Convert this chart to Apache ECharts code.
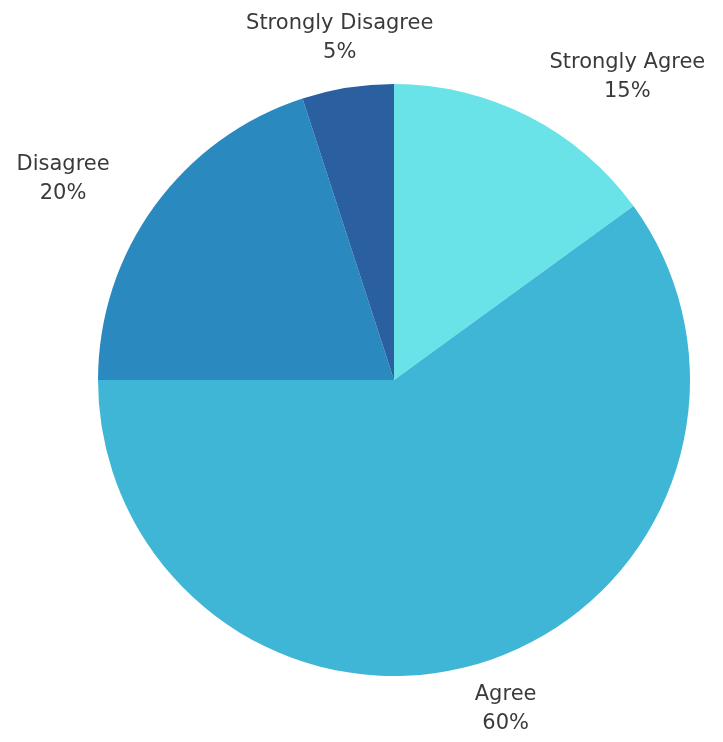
<!DOCTYPE html>
<html>
<head>
<meta charset="utf-8">
<script src="https://cdn.jsdelivr.net/npm/echarts@6/dist/echarts.min.js"></script>
<style>html,body{margin:0;padding:0;background:#fff;}#c{width:723px;height:742px;}</style>
</head>
<body>
<div id="c"></div>
<script>
const categories = ['Strongly Agree', 'Agree', 'Disagree', 'Strongly Disagree'];
const values = [15, 60, 20, 5];
const colors = ['#6ae3e8', '#3fb6d6', '#2a8ac0', '#2a60a0'];

// label placement styling (not data)
const labelGaps = [88, 49, 92, 51];
const labelShiftX = [59, 5, -17, 0];
const labelShiftY = [39, 1, 27, 1];

const chart = echarts.init(document.getElementById('c'));
chart.setOption({
  animation: false,
  series: [{
    type: 'pie',
    center: [394, 380],
    radius: [0, 296],
    startAngle: 90,
    clockwise: true,
    avoidLabelOverlap: false,
    data: categories.map((n, i) => ({
      name: n, value: values[i],
      itemStyle: { color: colors[i] },
      labelLine: { length: labelGaps[i] }
    })),
    label: {
      show: true,
      position: 'outside',
      formatter: p => p.name + '\n' + p.value + '%',
      fontFamily: 'DejaVu Sans',
      fontSize: 21,
      lineHeight: 29,
      color: '#3a3a3a',
      distanceToLabelLine: 0
    },
    labelLine: { show: true, length2: 0, lineStyle: { opacity: 0 } },
    emphasis: { disabled: true },
    labelLayout: function (params) {
      const pts = params.labelLinePoints;
      if (!pts) return {};
      const i = params.dataIndex;
      return { x: pts[1][0] + labelShiftX[i], y: pts[1][1] + labelShiftY[i], align: 'center', verticalAlign: 'middle' };
    }
  }]
});
</script>
</body>
</html>
